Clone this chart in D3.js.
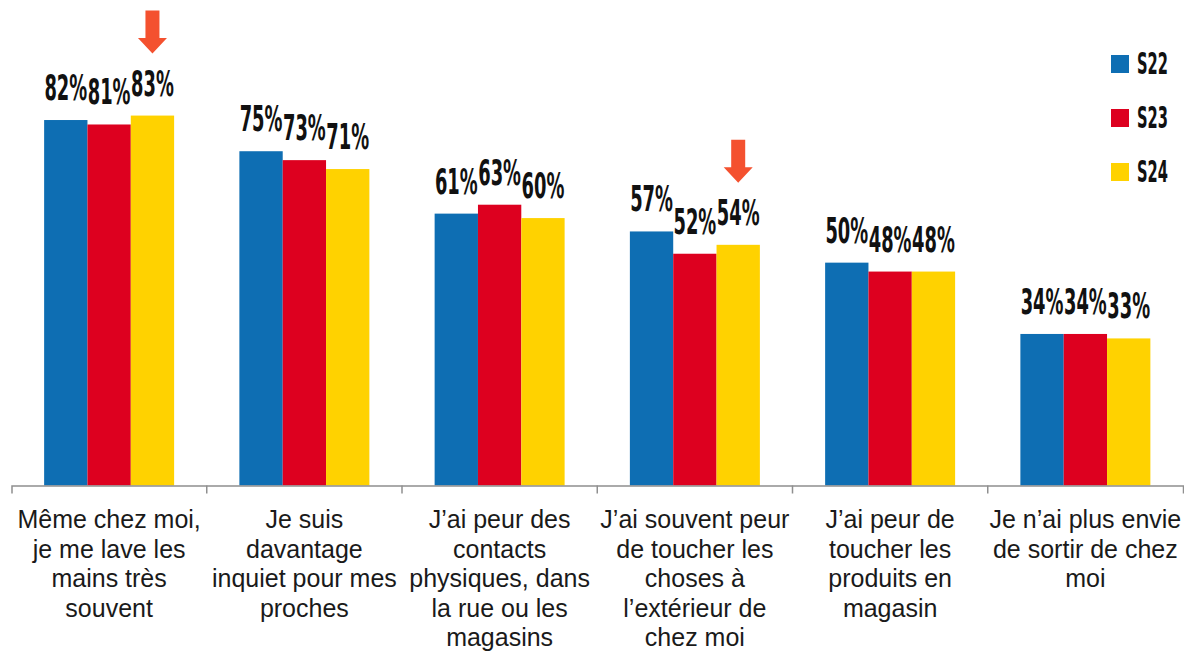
<!DOCTYPE html>
<html><head><meta charset="utf-8">
<script src="https://cdn.jsdelivr.net/npm/d3@7"></script>
<style>
html,body{margin:0;padding:0;background:#fff;}
svg{display:block;}
</style></head>
<body>
<svg id="chart" width="1184" height="651"></svg>
<script>
const categories = [
  "Même chez moi,\nje me lave les\nmains très\nsouvent",
  "Je suis\ndavantage\ninquiet pour mes\nproches",
  "J’ai peur des\ncontacts\nphysiques, dans\nla rue ou les\nmagasins",
  "J’ai souvent peur\nde toucher les\nchoses à\nl’extérieur de\nchez moi",
  "J’ai peur de\ntoucher les\nproduits en\nmagasin",
  "Je n’ai plus envie\nde sortir de chez\nmoi"
];
const seriesNames = ["S22", "S23", "S24"];
const valuesS22 = [82, 75, 61, 57, 50, 34];
const valuesS23 = [81, 73, 63, 52, 48, 34];
const valuesS24 = [83, 71, 60, 54, 48, 33];
const seriesColors = ["#0e6eb3", "#dd001f", "#ffd200"];
const highlightCategories = [0, 3];
const highlightSeries = "S24";

const seriesValues = [valuesS22, valuesS23, valuesS24];
const data = categories.map((c, i) => ({
  cat: c,
  vals: seriesNames.map((s, j) => ({ s, v: seriesValues[j][i], color: seriesColors[j] }))
}));

const svg = d3.select("#chart");
const W = 1184, H = 651;
svg.append("rect").attr("width", W).attr("height", H).attr("fill", "#fff");

const x = d3.scaleBand().domain(categories).range([11.5, 1183]).padding(0);
const xs = d3.scaleBand().domain(seriesNames).range([0, x.bandwidth()]).paddingInner(0).paddingOuter(0.753);
const baseY = 485.5;
const y = d3.scaleLinear().domain([0, 100]).range([baseY, 39.8]);

// bars
const groups = svg.append("g").selectAll("g").data(data).join("g")
  .attr("transform", d => `translate(${x(d.cat)},0)`);
groups.selectAll("rect").data(d => d.vals).join("rect")
  .attr("x", d => xs(d.s))
  .attr("y", d => y(d.v))
  .attr("width", xs.bandwidth())
  .attr("height", d => y(0) - y(d.v))
  .attr("fill", d => d.color);

// value label scale factor via measurement
const labelFont = "'Liberation Sans Narrow','DejaVu Sans Condensed','Liberation Sans',sans-serif";
const probe = svg.append("text").attr("font-family", labelFont).attr("font-weight", "bold")
  .attr("font-size", 35).text("88%");
const kLabel = (xs.bandwidth() - 0.5) / probe.node().getComputedTextLength();
probe.remove();

groups.selectAll("text.val").data(d => d.vals).join("text")
  .attr("class", "val")
  .attr("transform", d => `translate(${xs(d.s) + xs.bandwidth() / 2},${y(d.v) - 20}) scale(${kLabel},1)`)
  .attr("text-anchor", "middle")
  .attr("font-family", labelFont).attr("font-weight", "bold").attr("font-size", 35)
  .attr("fill", "#111")
  .text(d => d.v + "%");

// arrows
const arrowG = svg.append("g");
highlightCategories.forEach(ci => {
  const d = data[ci];
  const v = d.vals.find(e => e.s === highlightSeries).v;
  const cx = x(d.cat) + xs(highlightSeries) + xs.bandwidth() / 2;
  const tip = y(v) - 62;
  const p = d3.path();
  p.moveTo(cx - 7, tip - 43);
  p.lineTo(cx + 7, tip - 43);
  p.lineTo(cx + 7, tip - 15.5);
  p.lineTo(cx + 14.5, tip - 15.5);
  p.lineTo(cx, tip);
  p.lineTo(cx - 14.5, tip - 15.5);
  p.lineTo(cx - 7, tip - 15.5);
  p.closePath();
  arrowG.append("path").attr("d", p.toString()).attr("fill", "#f4512f");
});

// axis
const axisG = svg.append("g").attr("transform", `translate(0,${baseY})`)
  .call(d3.axisBottom(x).tickSize(0).tickSizeOuter(8).tickFormat(""));
axisG.select(".domain").attr("stroke", "#8f8f8f").attr("stroke-width", 1.5);
axisG.selectAll(".tick").remove();
axisG.selectAll("line.sep").data(categories.slice(1)).join("line")
  .attr("class", "sep")
  .attr("x1", d => x(d)).attr("x2", d => x(d))
  .attr("y1", 0).attr("y2", 8)
  .attr("stroke", "#8f8f8f").attr("stroke-width", 1.5);

const catLabels = axisG.selectAll("text.cat").data(categories).join("text")
  .attr("class", "cat")
  .attr("text-anchor", "middle")
  .attr("font-family", "'Liberation Sans',Arial,sans-serif")
  .attr("font-size", 25)
  .attr("fill", "#1a1a1a");
catLabels.each(function(d) {
  const t = d3.select(this);
  const cx = x(d) + x.bandwidth() / 2;
  d.split("\n").forEach((line, i) => {
    t.append("tspan").attr("x", cx).attr("y", 42.5 + i * 29.5).text(line);
  });
});

// legend
const legFont = labelFont;
const legend = svg.append("g").attr("transform", "translate(1111,55)");
const probe2 = svg.append("text").attr("font-family", legFont).attr("font-weight", "bold")
  .attr("font-size", 31).text("S22");
const kLeg = 31 / probe2.node().getComputedTextLength();
probe2.remove();
const li = legend.selectAll("g").data(seriesNames).join("g")
  .attr("transform", (d, i) => `translate(0,${i * 54})`);
li.append("rect").attr("width", 18).attr("height", 18).attr("fill", (d, i) => seriesColors[i]);
li.append("text")
  .attr("transform", `translate(26,19) scale(${kLeg},1)`)
  .attr("font-family", legFont).attr("font-weight", "bold").attr("font-size", 31)
  .attr("fill", "#111")
  .text(d => d);
</script>
</body></html>
